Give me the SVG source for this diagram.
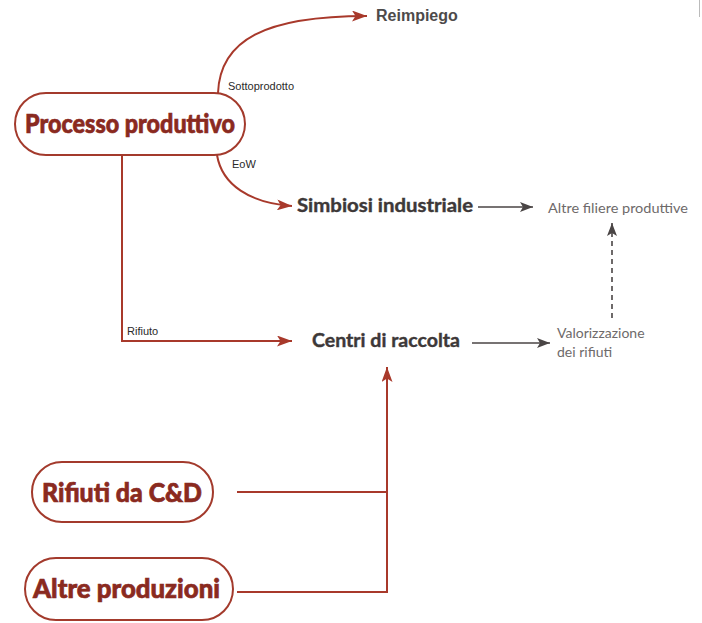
<svg xmlns="http://www.w3.org/2000/svg" width="702" height="623" viewBox="0 0 702 623">
<style>
.pill{fill:#fff;stroke:#a33a2c;stroke-width:2}
.pt{font-family:Lato,"Open Sans","Liberation Sans",sans-serif;font-weight:900;font-size:27px;fill:#8a2a1f;stroke:#8a2a1f;stroke-width:0.7;text-anchor:middle}
.red{fill:none;stroke:#a8392b;stroke-width:2}
.gr{fill:none;stroke:#4a4545;stroke-width:1.6}
.lbl{font-family:"Liberation Sans",Arial,sans-serif;font-size:11px;fill:#2a2a2a}
.hd{font-family:Lato,"Liberation Sans",sans-serif;font-weight:bold;fill:#3d3838;stroke:#3d3838;stroke-width:0.4}
.lt{font-family:Lato,"Liberation Sans",sans-serif;fill:#6e6a6a}
</style>
<defs>
<marker id="ar" viewBox="0 0 15 11" markerWidth="15" markerHeight="11" refX="15" refY="5.5" orient="auto" markerUnits="userSpaceOnUse"><path d="M0,0 L15,5.5 L0,11 L3.5,5.5 z" fill="#a8392b"/></marker>
<marker id="ag" viewBox="0 0 13 10" markerWidth="13" markerHeight="10" refX="13" refY="5" orient="auto" markerUnits="userSpaceOnUse"><path d="M0,0 L13,5 L0,10 L3,5 z" fill="#4a4545"/></marker>
</defs>
<rect width="702" height="623" fill="#fff"/>
<line x1="699.5" y1="0" x2="699.5" y2="17" stroke="#bbb" stroke-width="1"/>
<g id="connectors">
<path class="red" d="M218,93 C220,40 265,16 367,16" marker-end="url(#ar)"/>
<path class="red" d="M217,155 C222,185 250,203 292,206" marker-end="url(#ar)"/>
<path class="red" d="M122,155 V341 H292" marker-end="url(#ar)"/>
<path class="red" d="M237,492 H387"/>
<path class="red" d="M237,592 H387 V367" marker-end="url(#ar)"/>
<path class="gr" d="M478,207 H533" marker-end="url(#ag)"/>
<path class="gr" d="M472,343 H550" marker-end="url(#ag)"/>
<path class="gr" d="M612,318 V223" stroke-dasharray="5,4" marker-end="url(#ag)"/>
<text class="lbl" x="228" y="90">Sottoprodotto</text>
<text class="lbl" x="232" y="168">EoW</text>
<text class="lbl" x="127" y="335">Rifiuto</text>
</g>
<g id="processo">
<rect class="pill" x="15" y="93" width="230" height="62" rx="31"/>
<text class="pt" x="130" y="133" textLength="210" lengthAdjust="spacingAndGlyphs">Processo produttivo</text>
</g>
<g id="rifiuti-cd">
<rect class="pill" x="32" y="462" width="181" height="60" rx="30"/>
<text class="pt" x="122" y="502" textLength="160" lengthAdjust="spacingAndGlyphs">Rifiuti da C&amp;D</text>
</g>
<g id="altre-produzioni">
<rect class="pill" x="25" y="558" width="208" height="62" rx="31"/>
<text class="pt" x="126.5" y="598" textLength="187" lengthAdjust="spacingAndGlyphs">Altre produzioni</text>
</g>
<g id="reimpiego">
<text x="376" y="21" font-size="16" font-weight="bold" font-family="'Liberation Sans',sans-serif" fill="#4d4a4a">Reimpiego</text>
</g>
<g id="simbiosi">
<text class="hd" x="297" y="212" font-size="19" textLength="176" lengthAdjust="spacingAndGlyphs">Simbiosi industriale</text>
</g>
<g id="altre-filiere">
<text class="lt" x="548" y="213" font-size="14" textLength="140" lengthAdjust="spacingAndGlyphs">Altre filiere produttive</text>
</g>
<g id="centri">
<text class="hd" x="312" y="347" font-size="19" textLength="148" lengthAdjust="spacingAndGlyphs">Centri di raccolta</text>
</g>
<g id="valorizzazione">
<text class="lt" x="557" y="338" font-size="14">Valorizzazione</text>
<text class="lt" x="557" y="357" font-size="14">dei rifiuti</text>
</g>
</svg>
